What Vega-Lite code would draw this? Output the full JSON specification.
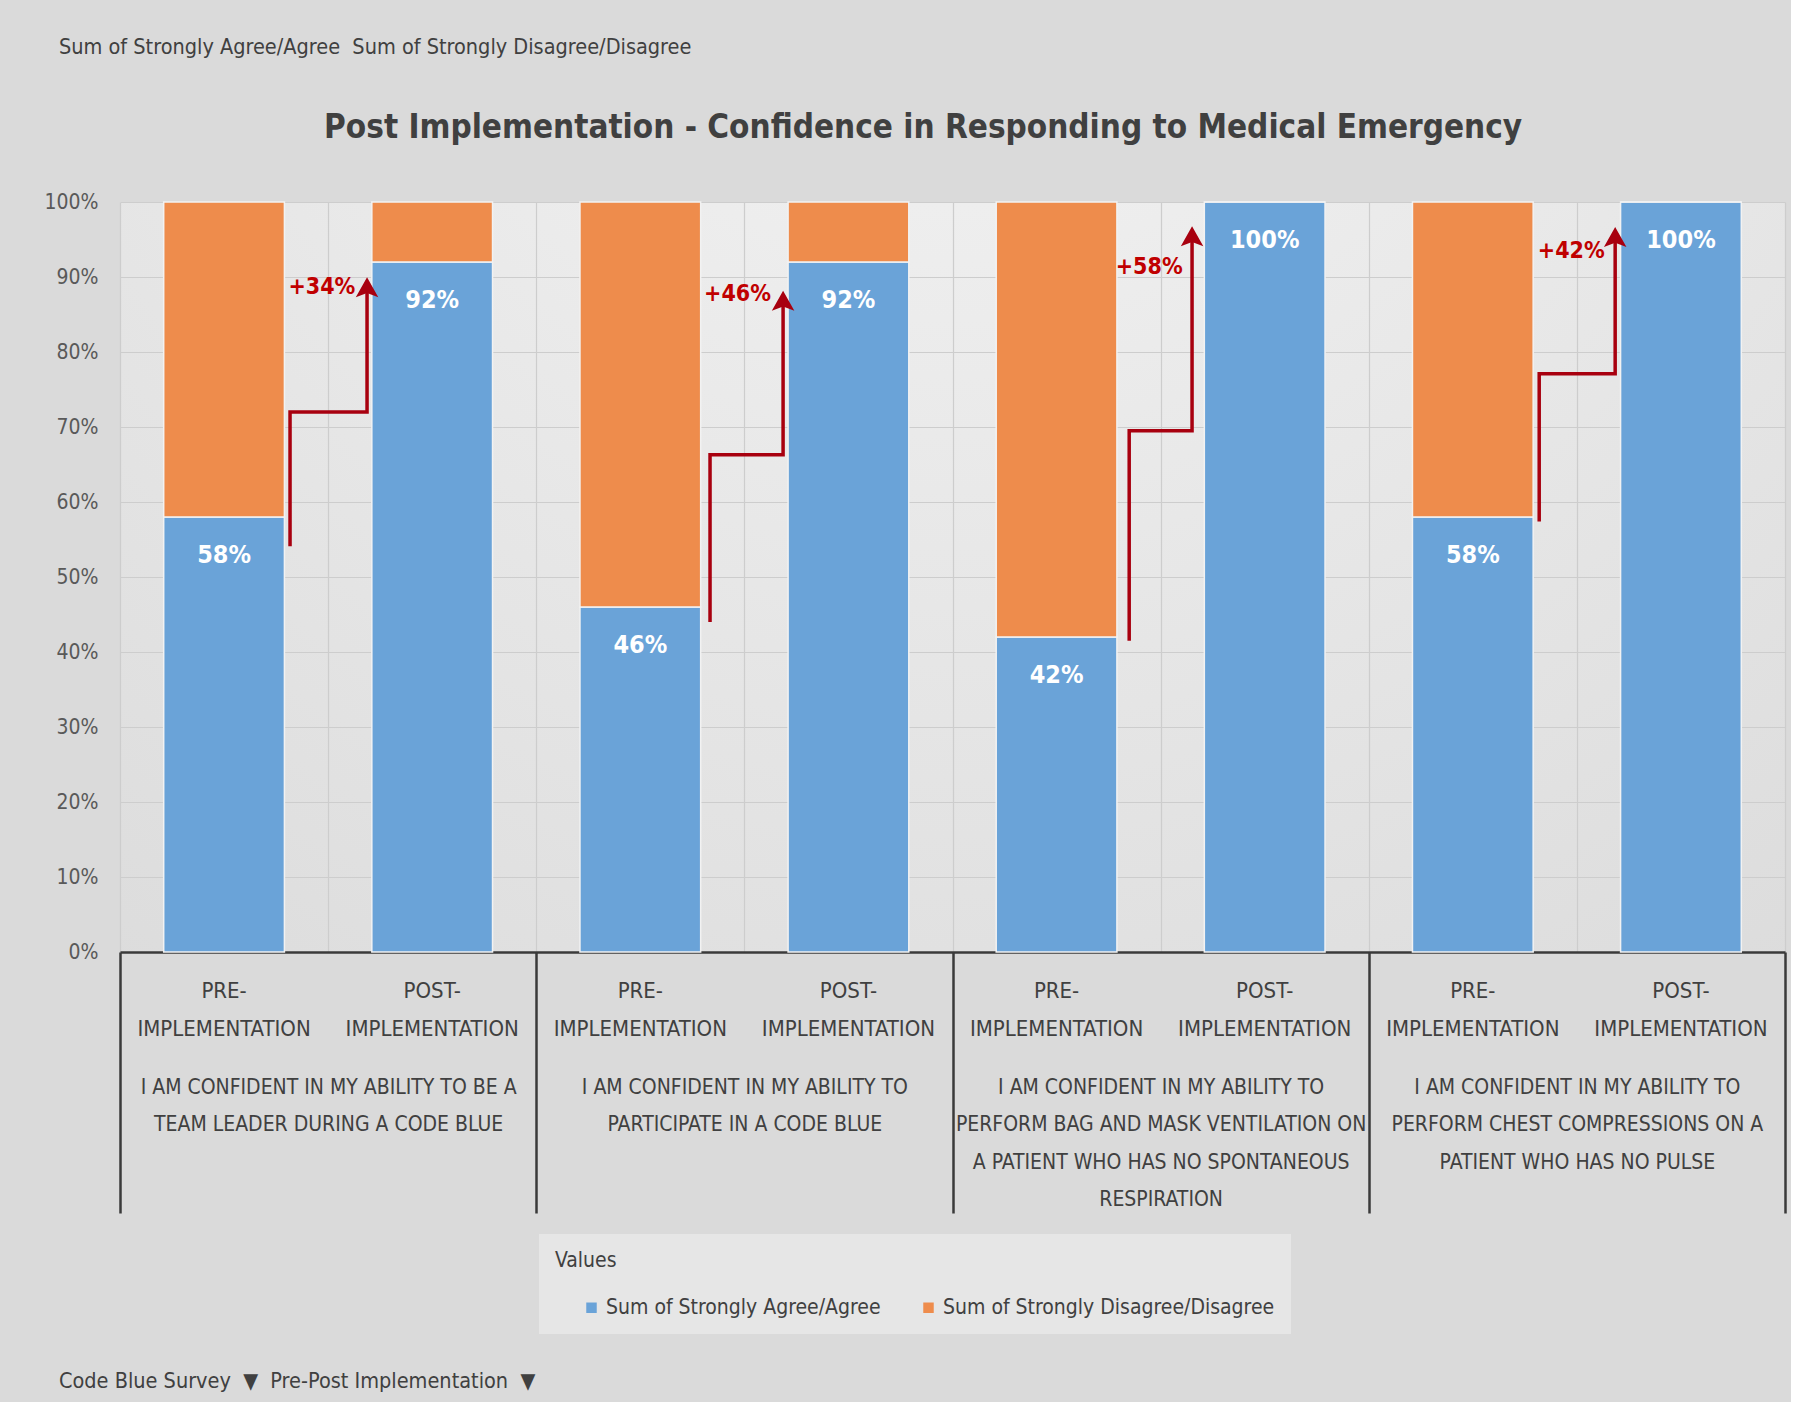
{
  "$schema": "https://vega.github.io/schema/vega-lite/v6.json",
  "background": "#dadada",
  "padding": {"left": 43, "top": 36, "right": 4, "bottom": 10},
  "config": {
    "font": "Liberation Sans Narrow, DejaVu Sans Condensed, Arial Narrow, sans-serif",
    "view": {
      "stroke": null,
      "fill": {"gradient": "radial", "x1": 0.5, "y1": 0, "r1": 0, "x2": 0.5, "y2": 0, "r2": 1,
        "stops": [{"offset": 0, "color": "#f6f6f6"}, {"offset": 1, "color": "#d9d9d9"}]}
    }
  },
  "datasets": {
    "bars": [
      {"question": "Q1", "bar": "Q1 PRE", "series": "Sum of Strongly Agree/Agree", "value": 0.58},
      {"question": "Q1", "bar": "Q1 PRE", "series": "Sum of Strongly Disagree/Disagree", "value": 0.42},
      {"question": "Q1", "bar": "Q1 POST", "series": "Sum of Strongly Agree/Agree", "value": 0.92},
      {"question": "Q1", "bar": "Q1 POST", "series": "Sum of Strongly Disagree/Disagree", "value": 0.08},
      {"question": "Q2", "bar": "Q2 PRE", "series": "Sum of Strongly Agree/Agree", "value": 0.46},
      {"question": "Q2", "bar": "Q2 PRE", "series": "Sum of Strongly Disagree/Disagree", "value": 0.54},
      {"question": "Q2", "bar": "Q2 POST", "series": "Sum of Strongly Agree/Agree", "value": 0.92},
      {"question": "Q2", "bar": "Q2 POST", "series": "Sum of Strongly Disagree/Disagree", "value": 0.08},
      {"question": "Q3", "bar": "Q3 PRE", "series": "Sum of Strongly Agree/Agree", "value": 0.42},
      {"question": "Q3", "bar": "Q3 PRE", "series": "Sum of Strongly Disagree/Disagree", "value": 0.58},
      {"question": "Q3", "bar": "Q3 POST", "series": "Sum of Strongly Agree/Agree", "value": 1.0},
      {"question": "Q3", "bar": "Q3 POST", "series": "Sum of Strongly Disagree/Disagree", "value": 0.0},
      {"question": "Q4", "bar": "Q4 PRE", "series": "Sum of Strongly Agree/Agree", "value": 0.58},
      {"question": "Q4", "bar": "Q4 PRE", "series": "Sum of Strongly Disagree/Disagree", "value": 0.42},
      {"question": "Q4", "bar": "Q4 POST", "series": "Sum of Strongly Agree/Agree", "value": 1.0},
      {"question": "Q4", "bar": "Q4 POST", "series": "Sum of Strongly Disagree/Disagree", "value": 0.0}
    ],
    "arrows": [
      {"arrow": "Q1", "step": 1, "pos": 0.817, "pct": 0.541},
      {"arrow": "Q1", "step": 2, "pos": 0.817, "pct": 0.72},
      {"arrow": "Q1", "step": 3, "pos": 1.187, "pct": 0.72},
      {"arrow": "Q1", "step": 4, "pos": 1.187, "pct": 0.885},
      {"arrow": "Q2", "step": 1, "pos": 2.835, "pct": 0.44},
      {"arrow": "Q2", "step": 2, "pos": 2.835, "pct": 0.663},
      {"arrow": "Q2", "step": 3, "pos": 3.186, "pct": 0.663},
      {"arrow": "Q2", "step": 4, "pos": 3.186, "pct": 0.867},
      {"arrow": "Q3", "step": 1, "pos": 4.849, "pct": 0.415},
      {"arrow": "Q3", "step": 2, "pos": 4.849, "pct": 0.695},
      {"arrow": "Q3", "step": 3, "pos": 5.151, "pct": 0.695},
      {"arrow": "Q3", "step": 4, "pos": 5.151, "pct": 0.953},
      {"arrow": "Q4", "step": 1, "pos": 6.819, "pct": 0.574},
      {"arrow": "Q4", "step": 2, "pos": 6.819, "pct": 0.771},
      {"arrow": "Q4", "step": 3, "pos": 7.184, "pct": 0.771},
      {"arrow": "Q4", "step": 4, "pos": 7.184, "pct": 0.952}
    ],
    "heads": [
      {"arrow": "Q1", "pos": 1.187, "pct": 0.883},
      {"arrow": "Q2", "pos": 3.186, "pct": 0.865},
      {"arrow": "Q3", "pos": 5.151, "pct": 0.951},
      {"arrow": "Q4", "pos": 7.184, "pct": 0.95}
    ],
    "notes": [
      {"label": "+34%", "pos": 0.97, "pct": 0.887},
      {"label": "+46%", "pos": 2.967, "pct": 0.877},
      {"label": "+58%", "pos": 4.945, "pct": 0.913},
      {"label": "+42%", "pos": 6.973, "pct": 0.935}
    ]
  },
  "title": {
    "text": "Code Blue Survey \u00a0\u25bc \u00a0Pre-Post Implementation \u00a0\u25bc",
    "orient": "bottom", "anchor": "start", "fontSize": 21.5, "fontWeight": "normal",
    "color": "#404040", "offset": 37, "dx": 15
  },
  "vconcat": [
    {
      "title": {
        "text": "Sum of Strongly Agree/Agree \u00a0Sum of Strongly Disagree/Disagree",
        "anchor": "start", "fontSize": 21.5, "fontWeight": "normal", "color": "#404040", "offset": 54, "dx": 15
      },
      "vconcat": [
        {
          "width": 1665,
          "height": 750,
          "title": {
            "text": "Post Implementation - Confidence in Responding to Medical Emergency",
            "fontSize": 33, "fontWeight": "bold", "color": "#404040", "anchor": "middle", "frame": "bounds", "offset": 46, "dx": 8
          },
          "layer": [
            {
              "data": {"name": "bars"},
              "encoding": {
                "x": {
                  "field": "bar", "type": "nominal",
                  "scale": {"domain": ["Q1 PRE", "Q1 POST", "Q2 PRE", "Q2 POST", "Q3 PRE", "Q3 POST", "Q4 PRE", "Q4 POST"], "paddingInner": 0.42, "paddingOuter": 0.21},
                  "axis": {
                    "title": null, "orient": "bottom",
                    "labelExpr": "indexof(datum.value, 'PRE') >= 0 ? ['PRE-', 'IMPLEMENTATION'] : ['POST-', 'IMPLEMENTATION']",
                    "labelFontSize": 22, "labelColor": "#404040", "labelPadding": 28, "labelLineHeight": 38,
                    "labelBaseline": "top", "labelAngle": 0, "labelLimit": 400, "labelOverlap": false,
                    "ticks": false, "grid": false, "domain": true, "domainColor": "#3a3a3a", "domainWidth": 2.5
                  }
                }
              },
              "layer": [
                {
                  "mark": {"type": "bar", "stroke": "#f2f2f2", "strokeWidth": 1.5},
                  "encoding": {
                    "y": {
                      "field": "value", "type": "quantitative", "stack": "zero",
                      "scale": {"domain": [0, 1], "nice": false},
                      "axis": {
                        "title": null, "values": [0, 0.1, 0.2, 0.3, 0.4, 0.5, 0.6, 0.7, 0.8, 0.9, 1],
                        "format": ".0%", "grid": true, "gridColor": "#cdcdcd", "gridWidth": 1.2,
                        "domain": false, "ticks": false, "labelPadding": 22, "labelFontSize": 21, "labelColor": "#595959"
                      }
                    },
                    "color": {
                      "field": "series", "type": "nominal",
                      "scale": {"domain": ["Sum of Strongly Agree/Agree", "Sum of Strongly Disagree/Disagree"], "range": ["#6aa3d8", "#ee8c4c"]},
                      "legend": {
                        "orient": "none", "legendX": 419, "legendY": 1032, "direction": "horizontal",
                        "title": "Values", "titleFontSize": 21, "titleFontWeight": "normal", "titleColor": "#404040", "titlePadding": 26,
                        "labelFontSize": 21, "labelColor": "#404040", "labelLimit": 400,
                        "symbolType": "square", "symbolSize": 110, "symbolStrokeWidth": 0, "symbolOffset": 26,
                        "columnPadding": 11, "padding": 16, "fillColor": "#e6e6e6"
                      }
                    },
                    "order": {"field": "series", "sort": "ascending"}
                  }
                },
                {
                  "transform": [{"filter": "datum.series === 'Sum of Strongly Agree/Agree'"}],
                  "mark": {"type": "text", "dy": 38, "baseline": "middle", "fontSize": 25, "fontWeight": "bold", "color": "#ffffff"},
                  "encoding": {
                    "y": {"field": "value", "type": "quantitative"},
                    "text": {"field": "value", "type": "quantitative", "format": ".0%"}
                  }
                }
              ]
            },
            {
              "layer": [
                {
                  "data": {"name": "arrows"},
                  "mark": {"type": "line", "color": "#a8000f", "strokeWidth": 3.5, "strokeJoin": "miter"},
                  "encoding": {
                    "x": {
                      "field": "pos", "type": "quantitative",
                      "scale": {"domain": [0, 8], "nice": false, "zero": false},
                      "axis": {
                        "title": null, "orient": "bottom", "values": [0, 1, 2, 3, 4, 5, 6, 7, 8],
                        "grid": true, "gridColor": "#cdcdcd", "gridWidth": 1.2, "domain": false,
                        "ticks": true, "tickSize": 261, "tickWidth": 2.5, "tickColor": "#3a3a3a",
                        "tickOpacity": {"condition": {"test": "datum.value % 2 === 0", "value": 1}, "value": 0},
                        "labelExpr": "datum.value === 1 ? ['I AM CONFIDENT IN MY ABILITY TO BE A', 'TEAM LEADER DURING A CODE BLUE'] : datum.value === 3 ? ['I AM CONFIDENT IN MY ABILITY TO', 'PARTICIPATE IN A CODE BLUE'] : datum.value === 5 ? ['I AM CONFIDENT IN MY ABILITY TO', 'PERFORM BAG AND MASK VENTILATION ON', 'A PATIENT WHO HAS NO SPONTANEOUS', 'RESPIRATION'] : datum.value === 7 ? ['I AM CONFIDENT IN MY ABILITY TO', 'PERFORM CHEST COMPRESSIONS ON A', 'PATIENT WHO HAS NO PULSE'] : ''",
                        "labelPadding": -137, "labelBaseline": "top", "labelLineHeight": 37.5,
                        "labelFontSize": 21, "labelColor": "#404040", "labelLimit": 500,
                        "labelOverlap": false, "labelFlush": false, "labelBound": false, "labelAngle": 0
                      }
                    },
                    "y": {"field": "pct", "type": "quantitative"},
                    "detail": {"field": "arrow"},
                    "order": {"field": "step"}
                  }
                },
                {
                  "data": {"name": "heads"},
                  "mark": {"type": "point", "shape": "M0,-1L0.9,0.6L0,0.25L-0.9,0.6Z", "filled": true, "color": "#a8000f", "size": 625, "opacity": 1},
                  "encoding": {
                    "x": {"field": "pos", "type": "quantitative"},
                    "y": {"field": "pct", "type": "quantitative"}
                  }
                },
                {
                  "data": {"name": "notes"},
                  "mark": {"type": "text", "color": "#c00000", "fontSize": 23, "fontWeight": "bold", "baseline": "middle"},
                  "encoding": {
                    "x": {"field": "pos", "type": "quantitative"},
                    "y": {"field": "pct", "type": "quantitative"},
                    "text": {"field": "label"}
                  }
                }
              ]
            }
          ],
          "resolve": {"scale": {"x": "independent"}, "axis": {"x": "independent"}}
        }
      ]
    }
  ]
}
